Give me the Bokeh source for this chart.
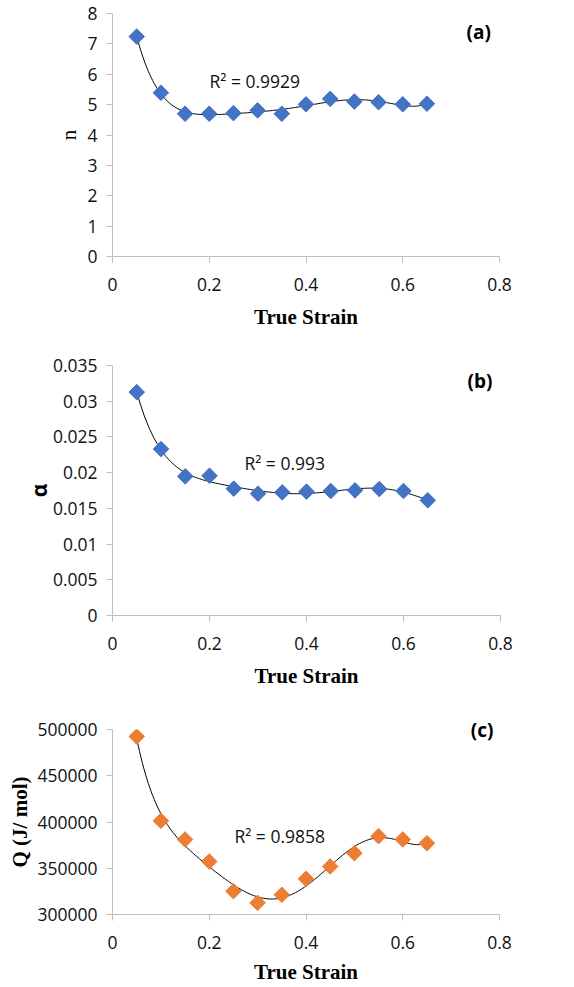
import numpy as np
from bokeh.plotting import figure
from bokeh.layouts import column
from bokeh.models import Range1d, FixedTicker, Label, Title
from bokeh.embed import file_html
from bokeh.resources import INLINE

# ---------------- data ----------------
strain = [0.05, 0.10, 0.15, 0.20, 0.25, 0.30, 0.35, 0.40, 0.45, 0.50, 0.55, 0.60, 0.65]
n_vals = [7.24, 5.39, 4.70, 4.70, 4.72, 4.81, 4.70, 5.01, 5.19, 5.10, 5.08, 5.01, 5.03]
alpha_vals = [0.03127, 0.02330, 0.01948, 0.01957, 0.01776, 0.01706, 0.01724,
              0.01734, 0.01743, 0.01752, 0.01771, 0.01743, 0.01613]
q_vals = [492400, 401300, 381100, 357300, 325200, 312600, 321300,
          338600, 351900, 366300, 384700, 381100, 377100]

x_ticks = [0, 0.2, 0.4, 0.6, 0.8]
x_tick_labels = ["0", "0.2", "0.4", "0.6", "0.8"]
n_ticks = [0, 1, 2, 3, 4, 5, 6, 7, 8]
n_tick_labels = ["0", "1", "2", "3", "4", "5", "6", "7", "8"]
alpha_ticks = [0, 0.005, 0.01, 0.015, 0.02, 0.025, 0.03, 0.035]
alpha_tick_labels = ["0", "0.005", "0.01", "0.015", "0.02", "0.025", "0.03", "0.035"]
q_ticks = [300000, 350000, 400000, 450000, 500000]
q_tick_labels = ["300000", "350000", "400000", "450000", "500000"]

r2_texts = ["R\u00b2 = 0.9929", "R\u00b2 = 0.993", "R\u00b2 = 0.9858"]
panel_tags = ["(a)", "(b)", "(c)"]

BLUE = "#4472C4"
ORANGE = "#ED7D31"
AXIS_GRAY = "#BFBFBF"
TICK_FONT = "Open Sans"
FIG_W = 574


def panel(y, yr, yticks, ylabels, ylabel, ylabel_font, ylabel_style, ylabel_size,
          color, r2, r2_pos, height, frame_h, frame_w, b_left, b_top,
          xlabel_standoff=11, ylabel_standoff=8):
    p = figure(width=FIG_W, height=height, output_backend="svg", toolbar_location=None,
               x_range=Range1d(0, 0.8), y_range=Range1d(*yr),
               frame_width=frame_w, frame_height=frame_h,
               min_border_left=b_left, min_border_top=b_top,
               min_border_right=FIG_W - b_left - frame_w,
               min_border_bottom=height - b_top - frame_h)
    p.outline_line_color = None
    p.grid.visible = False
    p.background_fill_color = "white"
    p.border_fill_color = "white"

    for ax, ticks, labels in ((p.xaxis[0], x_ticks, x_tick_labels),
                              (p.yaxis[0], yticks, ylabels)):
        ax.ticker = FixedTicker(ticks=ticks)
        ax.major_label_overrides = {t: l for t, l in zip(ticks, labels)}
        ax.axis_line_color = AXIS_GRAY
        ax.major_tick_line_color = AXIS_GRAY
        ax.major_tick_out = 6
        ax.major_tick_in = 0
        ax.minor_tick_line_color = None
        ax.major_label_text_font = TICK_FONT
        ax.major_label_text_font_size = "17.5px"
        ax.major_label_text_color = "#111111"

    p.xaxis.major_label_standoff = 15
    p.yaxis.major_label_standoff = 9
    p.xaxis.axis_label = "True Strain"
    p.xaxis.axis_label_text_font = "Liberation Serif"
    p.xaxis.axis_label_text_font_style = "bold"
    p.xaxis.axis_label_text_font_size = "21px"
    p.xaxis.axis_label_text_color = "black"
    p.xaxis.axis_label_standoff = xlabel_standoff

    p.yaxis.axis_label = ylabel
    p.yaxis.axis_label_text_font = ylabel_font
    p.yaxis.axis_label_text_font_style = ylabel_style
    p.yaxis.axis_label_text_font_size = ylabel_size
    p.yaxis.axis_label_text_color = "black"
    p.yaxis.axis_label_standoff = ylabel_standoff

    # polynomial trendline (order 6) fitted to the data
    xs = np.array(strain)
    coef = np.polyfit(xs, np.array(y, dtype=float), 6)
    xf = np.linspace(min(strain), max(strain), 200)
    p.line(xf, np.polyval(coef, xf), line_color="black", line_width=1)

    p.scatter(strain, y, marker="square", angle=np.pi / 4, size=11,
              fill_color=color, line_color=color)

    p.add_layout(Label(x=r2_pos[0], y=r2_pos[1], text=r2, text_font=TICK_FONT,
                       text_font_size="17.5px", text_baseline="middle",
                       text_color="#111111"))
    return p


def tag_label(p, tag, pos):
    p.add_layout(Label(x=pos[0], y=pos[1], text=tag, text_font=TICK_FONT,
                       text_font_size="19px", text_font_style="bold",
                       text_baseline="middle", text_color="black"))


pa = panel(n_vals, (0, 8), n_ticks, n_tick_labels, "n", "Liberation Serif", "normal", "21px",
           BLUE, r2_texts[0], (0.2005, 5.79),
           height=332, frame_h=243, frame_w=387, b_left=109, b_top=13, ylabel_standoff=3)
tag_label(pa, panel_tags[0], (0.732, 7.4))

pb = panel(alpha_vals, (0, 0.035), alpha_ticks, alpha_tick_labels, "\u03b1", "Open Sans", "bold", "21px",
           BLUE, r2_texts[1], (0.272, 0.02142),
           height=359, frame_h=250, frame_w=388, b_left=109, b_top=33, ylabel_standoff=-3)
tag_label(pb, panel_tags[1], (0.732, 0.0329))

pc = panel(q_vals, (300000, 500000), q_ticks, q_tick_labels, "Q (J/ mol)", "Liberation Serif", "bold", "21px",
           ORANGE, r2_texts[2], (0.252, 385400),
           height=296, frame_h=185, frame_w=387, b_left=112, b_top=38,
           xlabel_standoff=8, ylabel_standoff=2)
pc.add_layout(Title(text=panel_tags[2], align="right", offset=6, standoff=-26,
                    text_font=TICK_FONT, text_font_size="19px", text_font_style="bold",
                    text_color="black"), "above")

layout = column(pa, pb, pc, spacing=0)
open("out.html", "w").write(file_html(layout, INLINE))
